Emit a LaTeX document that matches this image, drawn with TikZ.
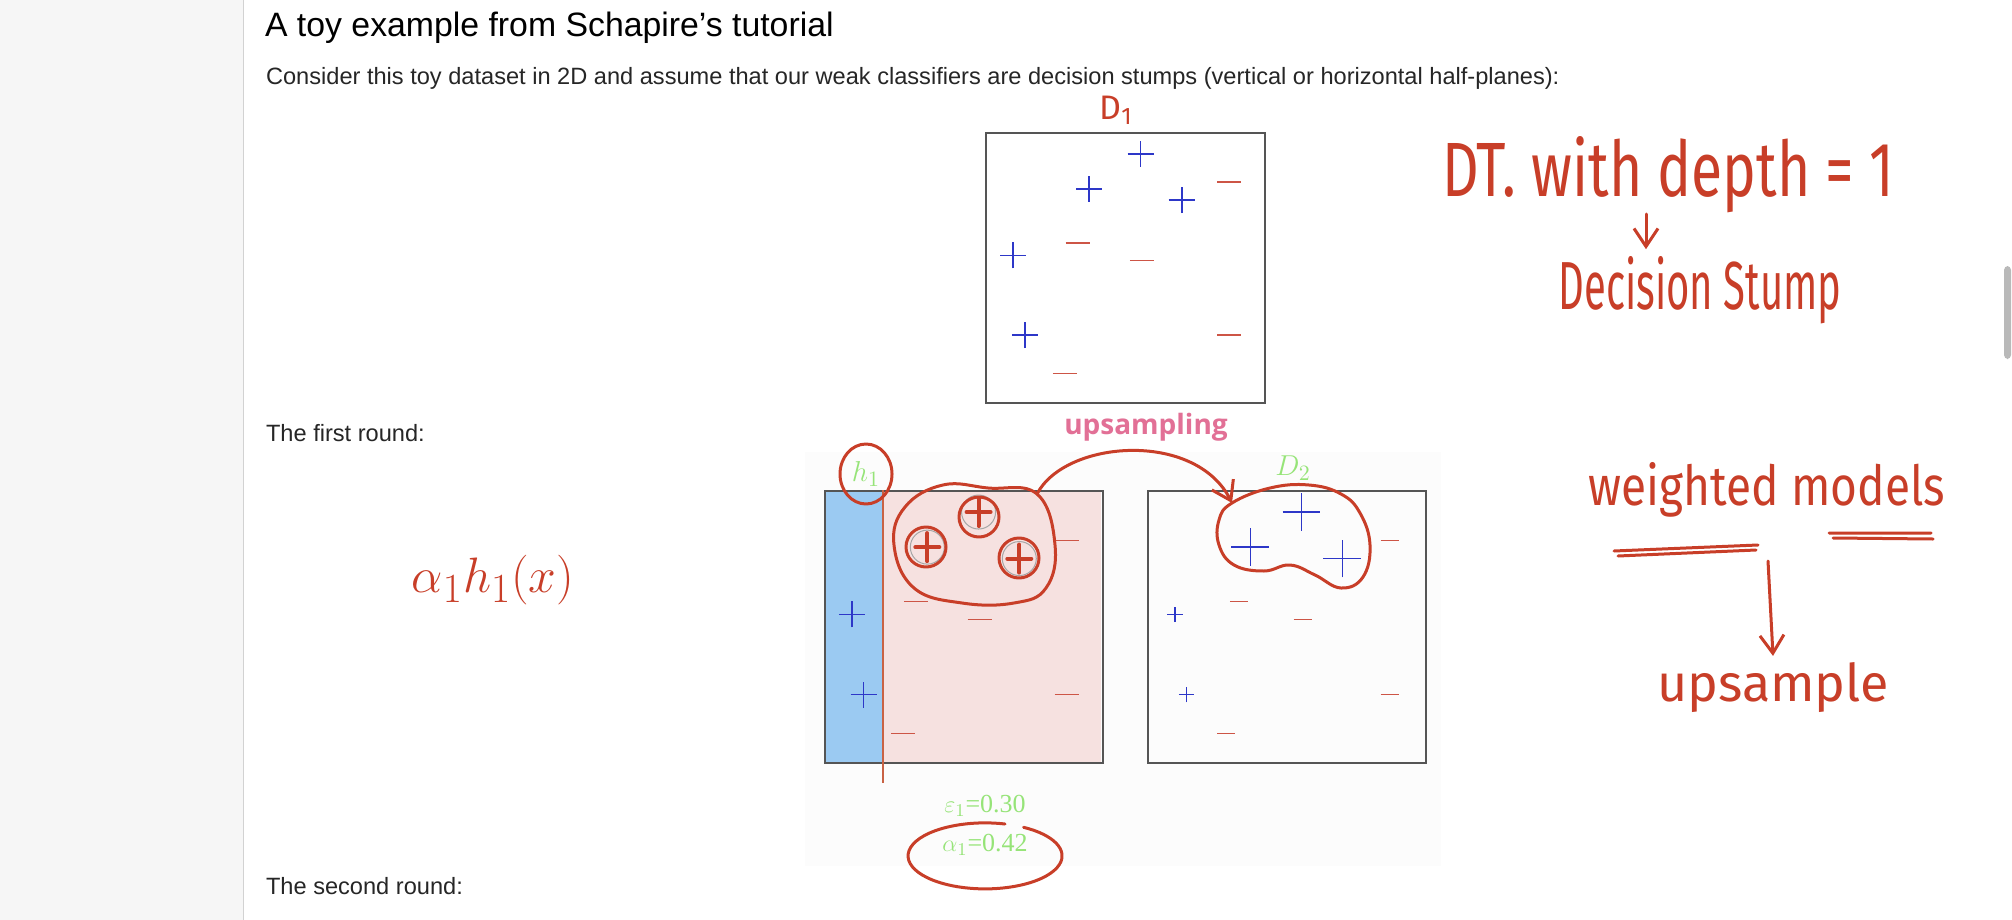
\documentclass[tikz,border=0pt]{standalone}
\usepackage{fontspec}
\setmainfont{Liberation Sans}
\newfontfamily\handfont{Fira Sans}
\newfontfamily\figfont{Liberation Serif}
\newfontfamily\uifont{Open Sans}
\usetikzlibrary{arrows.meta,positioning,calc}
\definecolor{PageGray}{RGB}{246,246,246}
\definecolor{PtBlue}{RGB}{45,55,200}
\definecolor{PtRed}{RGB}{205,85,70}
\definecolor{InkRed}{RGB}{200,62,40}
\definecolor{LabGreen}{RGB}{150,228,120}
\definecolor{UpPink}{RGB}{226,112,150}
\definecolor{StumpBlue}{RGB}{155,202,242}
\definecolor{StumpPink}{RGB}{246,225,224}
\definecolor{FrameGray}{RGB}{85,85,85}
% toy data, as fractions of the box
\newcommand{\topplus}{0.558/0.081, 0.373/0.21, 0.705/0.252}
\newcommand{\lowplus}{0.101/0.457, 0.143/0.752}
\newcommand{\minuslist}{0.876/0.186, 0.332/0.41, 0.562/0.476, 0.876/0.752, 0.286/0.895}

\begin{document}
\begin{tikzpicture}[
  x=0.5pt, y=-0.5pt,
  databox/.style={draw=FrameGray, line width=1pt, minimum width=139pt, minimum height=136pt,
                  inner sep=0pt, anchor=north west},
  pagetext/.style={anchor=base west, font=\fontsize{11.8}{14}\selectfont, text=black!85},
  figlabel/.style={text=LabGreen, font=\figfont\fontsize{13}{15}\selectfont},
  hand/.style={text=InkRed, font=\handfont\fontsize{24}{28}\selectfont},
  ink/.style={draw=InkRed, line width=1.5pt, line cap=round, line join=round},
  inkarrow/.style={ink, -{Straight Barb[length=9pt, width=12pt]}},
  pluspt/.pic={\draw[PtBlue, line width=0.8pt] (-6.5pt,0) -- (6.5pt,0) (0,-6.5pt) -- (0,6.5pt);},
  minuspt/.pic={\draw[PtRed, line width=0.8pt] (-6pt,0) -- (6pt,0);}
]
\useasboundingbox (0,0) rectangle (2012,920);
\fill[white] (0,0) rectangle (2012,920);
\fill[PageGray] (0,0) rectangle (243,920);
\draw[gray!35] (243,0) -- (243,920);
\fill[gray!55, rounded corners=2pt] (2004,266) rectangle (2011,359);

% page text
\node[pagetext, font=\fontsize{16.9}{20}\selectfont, text=black] (title) at (258,37) {A toy example from Schapire’s tutorial};
\node[pagetext] (intro) at (259,85) {Consider this toy dataset in 2D and assume that our weak classifiers are decision stumps (vertical or horizontal half-planes):};
\node[pagetext] (round1) at (259,441) {The first round:};
\node[pagetext] (round2) at (259,894) {The second round:};

% D1
\node[databox, minimum width=139.5pt, minimum height=135pt] (D1box) at (985,132) {};
\begin{scope}[shift={(D1box.north west)}, x=139.5pt, y=-135pt]
  \foreach \px/\py in \topplus { \pic at (\px,\py) {pluspt}; }
  \foreach \px/\py in \lowplus { \pic at (\px,\py) {pluspt}; }
  \foreach \mx/\my in \minuslist { \pic at (\mx,\my) {minuspt}; }
\end{scope}

% first round
\fill[gray!2] (805,452) rectangle (1441,866);
\fill[StumpBlue] (824,490) rectangle (883,762);
\fill[StumpPink] (883,490) rectangle (1101,762);
\node[databox] (h1box) at (824,490) {};
\node[databox] (D2box) at (1147,490) {};
\draw[PtRed!70!brown, line width=0.7pt] (883,490) -- (883,783);
\begin{scope}[shift={(h1box.north west)}, x=138.5pt, y=-136pt]
  \foreach \px/\py in \topplus {
    \draw[gray!70, line width=0.5pt] (\px,\py) circle[radius=8.5pt];
    \pic at (\px,\py) {pluspt};
    \draw[ink, line width=2pt] (\px,\py) +(-6pt,0) -- +(6pt,0) +(0,-7pt) -- +(0,7pt);
  }
  \foreach \px/\py in \lowplus { \pic at (\px,\py) {pluspt}; }
  \foreach \mx/\my in \minuslist { \pic at (\mx,\my) {minuspt}; }
\end{scope}
\begin{scope}[shift={(D2box.north west)}, x=138.5pt, y=-136pt]
  \foreach \px/\py in \topplus { \pic[scale=1.45] at (\px,\py) {pluspt}; }
  \foreach \px/\py in \lowplus { \pic[scale=0.6] at (\px,\py) {pluspt}; }
  \foreach \mx/\my in \minuslist { \pic[scale=0.75] at (\mx,\my) {minuspt}; }
\end{scope}
\node[figlabel, font=\figfont\fontsize{15}{17}\selectfont] (h1lab) at (866,474) {$h_1$};
\node[figlabel, font=\figfont\fontsize{15}{17}\selectfont] (D2lab) at (1293,468) {$D_2$};
\node[figlabel] (epslab) at (985,806) {$\varepsilon_1$=0.30};
\node[figlabel] (alphalab) at (985,845) {$\alpha_1$=0.42};
\node[text=UpPink, font=\uifont\bfseries\fontsize{14}{16}\selectfont] (upsamp) at (1146,427) {upsampling};

% handwritten notes
\node[hand, font=\handfont\fontsize{17}{20}\selectfont] (D1hand) at (1116,110) {D\textsubscript{1}};
\node[hand, font=\handfont\fontsize{28.5}{32}\selectfont] (DT) at (1668,175) {\scalebox{1}[1.35]{DT. with depth = 1}};
\node[hand, font=\handfont\fontsize{20}{24}\selectfont] (stump) at (1700,290) {\scalebox{1}[1.7]{Decision Stump}};
\draw[inkarrow] (1646,214) -- ([xshift=-27pt]stump.north);
\node[hand, font=\handfont\fontsize{23}{26}\selectfont] (weighted) at (1767,490) {\scalebox{1}[1.2]{weighted models}};
\node[hand, font=\handfont\fontsize{26}{30}\selectfont] (upsample) at (1773,688) {upsample};
\draw[ink] (1614,551) -- (1758,545) (1618,556) -- (1756,550);
\draw[ink] (1829,533) -- (1931,533) (1833,538) -- (1933,539);
\draw[inkarrow] (1768,561) -- (upsample.north);
\node[hand, font=\fontsize{31}{36}\selectfont] (alphah) at (493,580) {$\alpha_1 h_1(x)$};

% circles and blobs
\draw[ink] (h1lab) ellipse[x radius=13pt, y radius=15pt];
\foreach \cx/\cy in {926/547, 979/517, 1019/558}
  \draw[ink] (\cx,\cy) circle[radius=10pt];
\draw[ink] plot[smooth cycle, tension=0.7] coordinates {(1037,494) (1055,545) (1046,588) (1014,603) (962,603) (914,588) (894,545) (905,507) (943,485) (988,488)};
\draw[ink] plot[smooth cycle, tension=0.7] coordinates {(1232,503) (1270,488) (1309,485) (1341,494) (1360,513) (1370,545) (1363,577) (1341,588) (1315,575) (1290,565) (1264,571) (1234,565) (1219,545) (1219,520)};
\coordinate (blobA) at (1037,494);
\coordinate (blobB) at (1232,503);
\draw[inkarrow] (blobA) .. controls (1065,440) and (1195,430) .. (blobB);
\coordinate (alpharing) at (985,856);
\draw[ink] (alpharing) ++(10pt,16pt) arc[start angle=75, end angle=420, x radius=38.5pt, y radius=16.5pt];
\end{tikzpicture}
\end{document}
